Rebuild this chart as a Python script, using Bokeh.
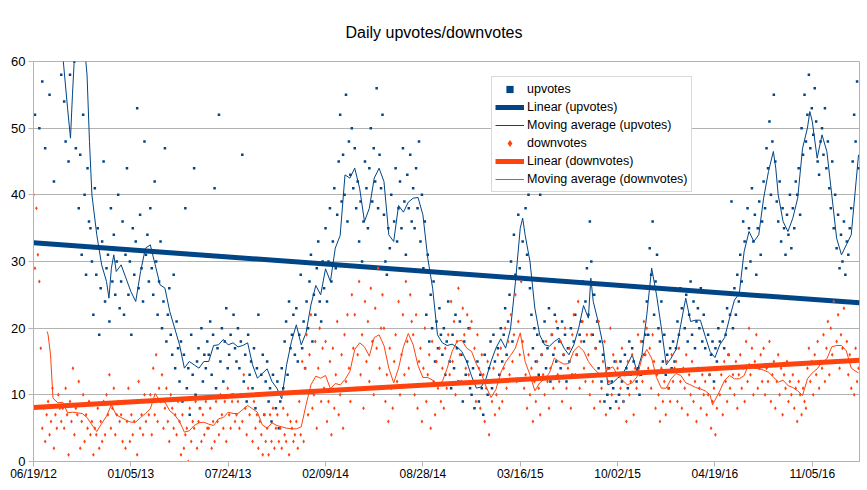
import numpy as np
import pandas as pd
from bokeh.plotting import figure
from bokeh.models import (FixedTicker, DatetimeTickFormatter, Legend, LegendItem,
                          Range1d)
from bokeh.embed import file_html
from bokeh.resources import INLINE

# ---------------- data ----------------
title_text = "Daily upvotes/downvotes"
start_date = "2012-06-19"
end_date = "2017-02-10"
tick_dates = ["2012-06-19", "2013-01-05", "2013-07-24", "2014-02-09", "2014-08-28",
              "2015-03-16", "2015-10-02", "2016-04-19", "2016-11-05"]
y_ticks = [0, 10, 20, 30, 40, 50, 60]
sample_step_days = 3  # one plotted point every 3 days

upvotes = [
    75, 52, 88, 64, 50, 95, 57, 70, 47, 110, 82, 55, 68, 90, 42, 73, 61, 99, 66, 58,
    66, 54, 48, 80, 45, 58, 72, 90, 60, 47, 70, 38, 46, 31, 52, 40, 28, 44, 36, 35,
    30, 22, 41, 28, 35, 19, 26, 33, 45, 24, 29, 31, 21, 38, 27, 34, 25, 30, 40, 23,
    27, 36, 22, 31, 44, 25, 30, 19, 35, 28, 33, 53, 26, 37, 29, 24, 48, 31, 34, 27,
    38, 29, 25, 42, 30, 22, 27, 33, 20, 24, 47, 18, 22, 26, 19, 16, 28, 14, 21, 17,
    12, 18, 9, 16, 38, 11, 14, 7, 19, 13, 44, 10, 15, 17, 8, 20, 12, 16, 14, 18,
    16, 21, 13, 19, 41, 11, 17, 52, 15, 20, 12, 18, 23, 14, 16, 19, 10, 22, 17, 15,
    20, 14, 18, 46, 12, 16, 9, 19, 13, 15, 11, 17, 8, 14, 22, 10, 13, 16, 7, 12,
    15, 9, 11, 6, 13, 10, 8, 12, 5, 9, 14, 11, 18, 21, 13, 24, 17, 19, 22, 16,
    23, 15, 19, 28, 17, 21, 14, 24, 20, 27, 31, 18, 25, 22, 29, 33, 24, 21, 30, 26,
    35, 24, 30, 38, 27, 33, 41, 29, 37, 45, 52, 39, 46, 40, 55, 36, 48, 43, 50, 41,
    47, 38, 42, 33, 39, 30, 36, 45, 41, 35, 44, 50, 39, 47, 42, 56, 38, 46, 41, 52,
    37, 30, 28, 35, 32, 40, 29, 36, 44, 33, 38, 42, 35, 47, 39, 31, 43, 38, 46, 36,
    41, 35, 44, 38, 48, 33, 40, 29, 36, 22, 31, 18, 25, 20, 27, 15, 21, 17, 23, 19,
    16, 20, 13, 18, 24, 15, 11, 19, 14, 22, 17, 12, 21, 16, 9, 18, 13, 15, 20, 11,
    10, 14, 8, 12, 15, 9, 13, 11, 7, 16, 12, 10, 14, 18, 11, 19, 15, 43, 17, 13,
    20, 15, 19, 23, 16, 21, 25, 30, 18, 34, 28, 41, 37, 29, 45, 33, 52, 38, 31, 40,
    26, 22, 17, 20, 15, 19, 13, 40, 16, 18, 21, 14, 17, 23, 12, 19, 16, 22, 15, 20,
    18, 14, 21, 16, 19, 12, 17, 15, 20, 13, 18, 22, 16, 48, 19, 21, 27, 18, 24, 29,
    22, 36, 30, 19, 25, 17, 21, 14, 18, 12, 16, 9, 13, 10, 14, 8, 12, 11, 15, 9,
    13, 10, 15, 12, 9, 16, 14, 11, 18, 13, 17, 15, 41, 12, 14, 10, 13, 18, 16, 19,
    24, 19, 32, 28, 36, 22, 27, 31, 20, 18, 24, 15, 19, 13, 16, 11, 17, 14, 18, 15,
    17, 21, 19, 26, 23, 45, 20, 25, 18, 22, 27, 19, 24, 17, 21, 23, 20, 26, 18, 22,
    17, 14, 19, 13, 16, 18, 12, 17, 15, 20, 18, 14, 21, 17, 19, 23, 16, 22, 39, 20,
    26, 22, 28, 24, 31, 27, 36, 33, 29, 38, 35, 30, 41, 33, 37, 28, 35, 39, 31, 36,
    42, 38, 47, 44, 51, 40, 48, 55, 45, 39, 36, 42, 33, 38, 35, 31, 37, 34, 40, 32,
    38, 35, 42, 40, 44, 37, 50, 46, 55, 48, 52, 58, 47, 53, 49, 56, 51, 45, 43, 48,
    50, 46, 53, 44, 48, 41, 38, 45, 35, 40, 32, 37, 29, 34, 30, 36, 28, 33, 31, 35,
    38, 45, 52, 48, 57, 44,
]

downvotes = [
    40, 29, 38, 31, 27, 17, 5, 8, 3, 7, 9, 4, 6, 11, 2, 7, 5, 10, 8, 6,
    8, 5, 11, 7, 1, 9, 6, 14, 4, 8, 7, 12, 2, 6, 10, 3, 7, 5, 9, 4,
    6, 1, 5, 4, 8, 2, 6, 3, 9, 4, 10, 7, 13, 5, 8, 11, 4, 7, 9, 6,
    7, 3, 9, 2, 6, 11, 3, 7, 4, 6, 9, 1, 12, 5, 7, 4, 10, 6, 9, 7,
    10, 4, 14, 7, 16, 6, 11, 9, 13, 5, 8, 11, 6, 3, 10, 8, 5, 7, 4, 9,
    6, 1, 7, 2, 4, 5, 0, 8, 3, 6, 5, 9, 2, 6, 8, 3, 7, 4, 9, 5,
    5, 8, 2, 6, 3, 9, 6, 4, 10, 7, 5, 9, 3, 11, 7, 5, 9, 10, 6, 7,
    9, 5, 10, 6, 13, 8, 4, 11, 7, 10, 3, 9, 5, 7, 2, 6, 4, 1, 7, 3,
    5, 1, 7, 3, 8, 2, 5, 7, 3, 5, 2, 8, 4, 3, 7, 1, 6, 5, 3, 4,
    6, 2, 9, 4, 15, 3, 14, 19, 7, 16, 22, 8, 10, 18, 5, 14, 20, 9, 17, 11,
    18, 6, 9, 15, 4, 17, 8, 13, 21, 7, 10, 16, 5, 19, 12, 22, 14, 9, 25, 17,
    22, 11, 16, 27, 13, 19, 8, 24, 15, 21, 12, 26, 18, 10, 23, 17, 29, 14, 20, 25,
    20, 9, 13, 6, 17, 11, 8, 15, 19, 12, 24, 10, 16, 22, 13, 27, 18, 14, 25, 21,
    19, 10, 22, 8, 15, 17, 6, 14, 20, 9, 13, 16, 5, 18, 12, 7, 15, 11, 17, 9,
    14, 8, 17, 11, 19, 13, 24, 15, 21, 10, 18, 26, 16, 12, 23, 19, 14, 22, 13, 20,
    21, 12, 17, 9, 19, 14, 8, 16, 13, 6, 11, 15, 4, 12, 9, 14, 7, 10, 16, 8,
    17, 9, 14, 20, 11, 18, 13, 22, 15, 19, 25, 12, 21, 16, 27, 18, 11, 13, 8, 16,
    10, 14, 6, 12, 9, 15, 11, 7, 16, 13, 10, 18, 12, 8, 14, 19, 11, 17, 21, 13,
    12, 18, 9, 16, 20, 11, 14, 17, 8, 19, 22, 13, 16, 24, 11, 18, 21, 14, 12, 19,
    16, 10, 19, 12, 8, 17, 13, 21, 9, 11, 15, 18, 7, 14, 12, 20, 10, 16, 13, 15,
    14, 8, 11, 17, 9, 13, 6, 15, 10, 12, 16, 7, 14, 11, 19, 13, 18, 12, 21, 16,
    20, 14, 17, 11, 19, 15, 8, 13, 10, 6, 14, 9, 12, 7, 15, 11, 9, 16, 12, 14,
    15, 9, 17, 12, 8, 14, 11, 16, 7, 13, 10, 15, 9, 12, 6, 14, 11, 8, 13, 10,
    12, 7, 10, 13, 5, 9, 11, 4, 8, 14, 10, 13, 7, 15, 12, 9, 16, 11, 14, 13,
    10, 15, 8, 13, 16, 11, 14, 9, 18, 12, 20, 13, 17, 10, 15, 19, 11, 14, 16, 12,
    17, 10, 14, 12, 18, 9, 13, 15, 8, 12, 16, 10, 14, 7, 13, 11, 15, 9, 12, 10,
    13, 8, 11, 6, 12, 10, 7, 11, 9, 8, 14, 17, 12, 15, 10, 16, 13, 18, 11, 15,
    14, 19, 12, 17, 21, 13, 20, 16, 24, 15, 18, 22, 14, 19, 17, 23, 15, 18, 13, 16,
    11, 15, 10, 17, 12, 14,
]

# moving averages: (days since start, value)
ma_up_pts = [
    (30, 70), (40, 68), (50, 64), (60, 61), (70, 53), (76, 48.5), (80, 55), (85, 62),
    (90, 68), (100, 66), (110, 58), (115, 48), (120, 40), (130, 34), (140, 29.5),
    (150, 27), (155, 24.5), (160, 29), (165, 31), (170, 28.5), (180, 29.5), (190, 27.5),
    (200, 25.5), (210, 24), (220, 28.5), (230, 32), (240, 32.5), (250, 29.5), (260, 26.5),
    (270, 26), (280, 22.5), (290, 20), (300, 17.5), (310, 14), (320, 15), (330, 14.5),
    (340, 14), (350, 15), (360, 15), (370, 17.4), (380, 17.5), (390, 18.3), (400, 17.5),
    (410, 17.8), (420, 17.2), (430, 17.4), (440, 17.8), (450, 14.5), (460, 12.5),
    (470, 13.2), (480, 13.9), (490, 12), (500, 11), (510, 9.4), (520, 14.5), (530, 18),
    (540, 20.5), (550, 17.5), (560, 19.3), (570, 23.5), (580, 26.4), (590, 25),
    (600, 28.9), (610, 27), (620, 32), (630, 33.9), (640, 43), (650, 42.5), (660, 44),
    (670, 41), (680, 36), (690, 38), (700, 42.5), (710, 44), (720, 42), (730, 34),
    (740, 33), (750, 38.4), (760, 37.4), (770, 38.9), (780, 39.5), (790, 39.6),
    (800, 37), (810, 30.5), (820, 26), (830, 19), (840, 17.8), (850, 17.4), (860, 17.6),
    (870, 17.2), (880, 16.5), (890, 15), (900, 12.8), (910, 11), (920, 11.2), (930, 12.5),
    (940, 15), (950, 17), (960, 18.4), (970, 17), (980, 19.9), (990, 26.8), (1000, 35),
    (1005, 36.5), (1010, 34), (1020, 30), (1030, 23), (1040, 19), (1050, 17.5),
    (1060, 17.3), (1070, 18), (1080, 18.5), (1090, 17), (1100, 16), (1110, 17.5),
    (1120, 20), (1130, 23.4), (1140, 21.5), (1145, 27.5), (1150, 24), (1160, 21),
    (1170, 17.5), (1180, 11.5), (1190, 11.8), (1200, 12.5), (1210, 13), (1220, 14.5),
    (1230, 16), (1240, 13.5), (1250, 16), (1260, 22), (1270, 29), (1280, 25), (1290, 20),
    (1300, 14.5), (1310, 15.5), (1320, 16.8), (1330, 20.6), (1340, 24.5), (1350, 21),
    (1360, 21.2), (1370, 21.2), (1380, 18.8), (1390, 16.5), (1400, 15.6), (1410, 17.5),
    (1420, 18.6), (1430, 21.5), (1440, 24.2), (1450, 25.2), (1460, 31.5), (1470, 34.5),
    (1480, 33), (1490, 34), (1500, 39.5), (1510, 43.5), (1520, 46.5), (1525, 44),
    (1530, 40), (1540, 36), (1550, 34.5), (1560, 36.5), (1570, 39.5), (1580, 47),
    (1590, 50), (1595, 52.5), (1600, 51), (1610, 45.5), (1620, 49), (1630, 46.5),
    (1640, 40), (1650, 33.5), (1660, 31), (1670, 32.5), (1680, 34), (1690, 42), (1695, 46),
]

ma_down_pts = [
    (28, 19.5), (30, 19), (35, 16), (40, 9.5), (50, 8.8), (60, 8.9), (70, 7.3), (80, 7.4),
    (90, 7.3), (100, 7.2), (110, 6.6), (120, 5.5), (130, 4.5), (140, 5.7), (150, 6.8),
    (160, 8.5), (170, 7), (180, 6.6), (190, 6.2), (200, 5.9), (210, 5.9), (220, 6.6),
    (230, 7.2), (240, 7.9), (250, 10.2), (260, 9), (270, 8.9), (280, 7.6), (290, 7),
    (300, 6), (310, 4.4), (320, 4.6), (330, 5.4), (340, 5.8), (350, 5.9), (360, 5.6),
    (370, 5.4), (380, 6.4), (390, 6.6), (400, 7.4), (410, 7.2), (420, 7.2), (430, 7.8),
    (440, 8.4), (450, 7.9), (460, 7.4), (470, 5.5), (480, 5), (490, 5.8), (500, 5.4),
    (510, 5.2), (520, 5), (530, 4.9), (540, 4.9), (550, 5.2), (560, 8.5), (570, 11.5),
    (580, 12.8), (590, 12.5), (600, 12.9), (610, 10.9), (620, 11.7), (630, 11.5),
    (640, 12.3), (650, 13.5), (660, 16.8), (670, 17.8), (680, 17.2), (690, 15.8),
    (700, 18.6), (710, 19), (720, 17.4), (730, 14), (740, 11.8), (750, 14), (760, 17.2),
    (770, 19.2), (780, 17.5), (790, 14.4), (800, 12.6), (810, 12.6), (820, 12.2),
    (830, 11.6), (840, 12), (850, 14), (860, 16.5), (870, 18), (880, 18.2), (890, 17),
    (900, 16.5), (910, 14.6), (920, 13.2), (930, 11.2), (940, 9.6), (950, 10.8),
    (960, 13.3), (970, 14.9), (980, 15.9), (990, 17), (1000, 19.3), (1010, 15),
    (1020, 13), (1030, 10.6), (1040, 11.8), (1050, 12.4), (1060, 13.3), (1070, 15.5),
    (1080, 15), (1090, 14.6), (1100, 14.7), (1110, 16.6), (1120, 17.3), (1130, 16.6),
    (1140, 15), (1150, 14), (1160, 13.3), (1170, 13), (1180, 13.8), (1190, 14.2),
    (1200, 13), (1210, 12.2), (1220, 11.5), (1230, 11.8), (1240, 12.7), (1250, 15.5),
    (1260, 16.8), (1270, 15.5), (1280, 12.6), (1290, 11), (1300, 11), (1310, 12.4),
    (1320, 13.2), (1330, 12.9), (1340, 11.8), (1350, 11.5), (1360, 11.1), (1370, 10.9),
    (1380, 10.6), (1390, 10), (1395, 8.5), (1400, 9.2), (1410, 10.6), (1420, 12.2),
    (1430, 12.9), (1440, 12.4), (1450, 12.4), (1460, 12.9), (1470, 14.7), (1480, 14),
    (1490, 13.9), (1500, 13.7), (1510, 13.4), (1520, 12.7), (1530, 11.9), (1540, 12.2),
    (1550, 11.4), (1560, 11.1), (1570, 10.6), (1580, 9.9), (1590, 12.4), (1600, 13.3),
    (1610, 13.9), (1620, 14.9), (1630, 15.4), (1640, 17.2), (1650, 17.4), (1660, 17.4),
    (1670, 16.6), (1680, 14), (1690, 13.5), (1695, 13.3),
]

# linear trend lines: value at first and last date
trend_up = [32.8, 23.8]
trend_down = [8.1, 15.2]

# ---------------- build ----------------
UP = "#004586"
DOWN = "#ff420e"
GRID = "#b3b3b3"
FONT = "Liberation Sans"

t0 = pd.Timestamp(start_date)
t1 = pd.Timestamp(end_date)

up_dates = t0 + pd.to_timedelta(np.arange(len(upvotes)) * sample_step_days, unit="D")
down_dates = t0 + pd.to_timedelta(np.arange(len(downvotes)) * sample_step_days, unit="D")

ma_up_days, ma_up_vals = zip(*ma_up_pts)
ma_down_days, ma_down_vals = zip(*ma_down_pts)
ma_up_dates = t0 + pd.to_timedelta(list(ma_up_days), unit="D")
ma_down_dates = t0 + pd.to_timedelta(list(ma_down_days), unit="D")

p = figure(width=867, height=490, x_axis_type="datetime",
           x_range=Range1d(t0, t1), y_range=Range1d(0, 60),
           output_backend="svg", toolbar_location=None,
           min_border_left=33, min_border_right=8, min_border_top=61, min_border_bottom=29)

p.title.text = title_text
p.title.align = "left"
p.title.offset = 312
p.title.text_font = FONT
p.title.text_font_size = "16px"
p.title.text_font_style = "normal"
p.title.text_color = "black"
p.title.standoff = 41

p.outline_line_color = GRID
p.outline_line_width = 1
p.background_fill_color = "white"
p.border_fill_color = "white"

tick_ms = [pd.Timestamp(d).value / 1e6 for d in tick_dates]
p.xaxis.ticker = FixedTicker(ticks=tick_ms)
fmt = "%m/%d/%y"
p.xaxis.formatter = DatetimeTickFormatter(
    microseconds=fmt, milliseconds=fmt, seconds=fmt, minsec=fmt, minutes=fmt,
    hourmin=fmt, hours=fmt, days=fmt, months=fmt, years=fmt)
p.yaxis.ticker = FixedTicker(ticks=y_ticks)

for ax in (p.xaxis, p.yaxis):
    ax.axis_line_color = GRID
    ax.major_tick_line_color = GRID
    ax.major_tick_out = 5
    ax.major_tick_in = 0
    ax.minor_tick_line_color = None
    ax.major_label_text_font = FONT
    ax.major_label_text_color = "black"
p.xaxis.major_label_text_font_size = "12px"
p.yaxis.major_label_text_font_size = "13px"
p.xaxis.major_label_standoff = 0
p.yaxis.major_label_standoff = 3

p.xgrid.visible = False
p.ygrid.ticker = FixedTicker(ticks=y_ticks)
p.ygrid.grid_line_color = GRID
p.ygrid.grid_line_width = 1

r_up = p.scatter(up_dates, upvotes, marker="square", size=2.5,
                 fill_color=UP, line_color=None)
r_up_lin = p.line([t0, t1], trend_up, line_color=UP, line_width=5)
r_up_ma = p.line(ma_up_dates, ma_up_vals, line_color=UP, line_width=1)
r_dn = p.scatter(down_dates, downvotes, marker="diamond", size=4,
                 fill_color=DOWN, line_color=None)
r_dn_lin = p.line([t0, t1], trend_down, line_color=DOWN, line_width=5)
r_dn_ma = p.line(ma_down_dates, ma_down_vals, line_color=DOWN, line_width=1)

legend = Legend(items=[
    LegendItem(label="upvotes", renderers=[r_up]),
    LegendItem(label="Linear (upvotes)", renderers=[r_up_lin]),
    LegendItem(label="Moving average (upvotes)", renderers=[r_up_ma]),
    LegendItem(label="downvotes", renderers=[r_dn]),
    LegendItem(label="Linear (downvotes)", renderers=[r_dn_lin]),
    LegendItem(label="Moving average (downvotes)", renderers=[r_dn_ma]),
], location=(458, 269))
legend.border_line_color = GRID
legend.border_line_width = 1
legend.background_fill_color = "white"
legend.background_fill_alpha = 1
legend.label_text_font = FONT
legend.label_text_font_size = "12.5px"
legend.label_text_color = "black"
legend.glyph_width = 29
legend.glyph_height = 18
legend.label_height = 18
legend.label_standoff = 3
legend.spacing = 0
legend.padding = 3
legend.margin = 0
p.add_layout(legend)

open("out.html", "w").write(file_html(p, INLINE))
